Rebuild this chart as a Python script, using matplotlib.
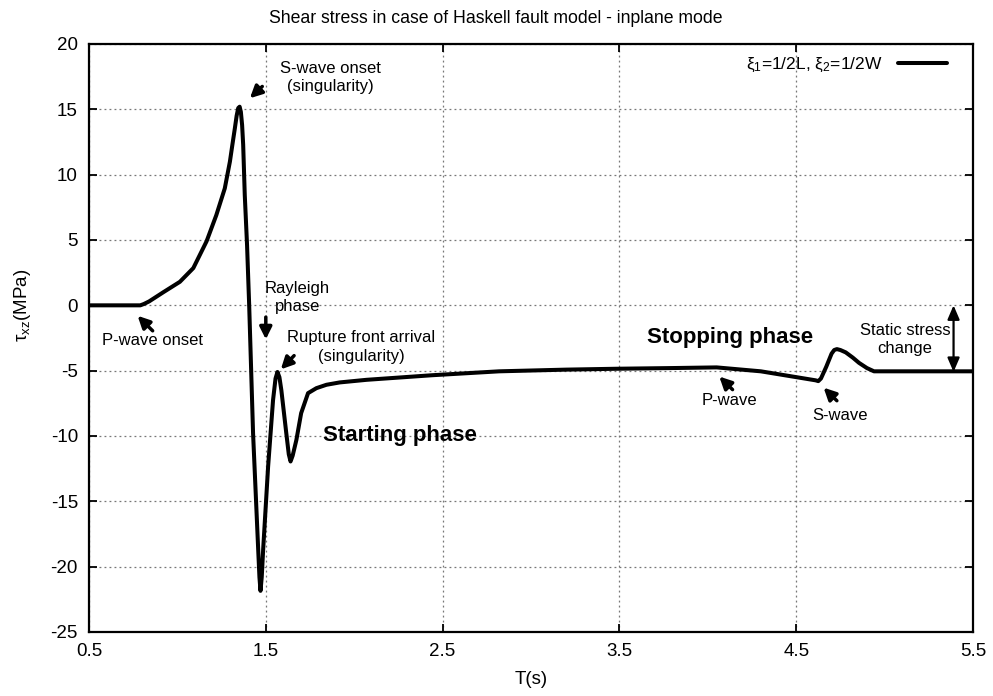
import numpy as np
import matplotlib.pyplot as plt

plt.rcParams['font.family'] = ['Liberation Sans', 'DejaVu Sans']
plt.rcParams['mathtext.fontset'] = 'custom'
plt.rcParams['mathtext.rm'] = 'Liberation Sans'
plt.rcParams['mathtext.it'] = 'Liberation Sans:italic'
plt.rcParams['axes.unicode_minus'] = False

# values
t_s = [0.5, 0.79, 0.81, 0.84, 0.92, 1.014, 1.09, 1.165, 1.22, 1.268, 1.297,
       1.31, 1.325, 1.335, 1.344, 1.352, 1.359, 1.366, 1.372, 1.381, 1.394,
       1.406, 1.428, 1.457, 1.464, 1.47, 1.477, 1.485, 1.513, 1.541, 1.555,
       1.566, 1.577, 1.588, 1.616, 1.63, 1.64, 1.652, 1.673, 1.70, 1.739,
       1.786, 1.843, 1.918, 2.07, 2.44, 2.82, 3.2, 3.5, 3.8, 4.05, 4.3,
       4.61, 4.625, 4.64, 4.67, 4.70, 4.715, 4.73, 4.75, 4.78, 4.82, 4.855,
       4.90, 4.94, 5.2, 5.5]
tau = [0.0, 0.0, 0.1, 0.3, 1.0, 1.8, 2.85, 4.9, 6.9, 8.95, 11.0,
       12.2, 13.55, 14.5, 15.1, 15.2, 14.8, 13.8, 12.3, 8.45, 4.6,
       0.0, -9.8, -18.7, -20.8, -21.85, -20.8, -18.7, -12.35, -7.25, -5.6,
       -5.1, -5.5, -6.5, -9.8, -11.4, -11.95, -11.5, -10.3, -8.25, -6.72,
       -6.34, -6.08, -5.9, -5.7, -5.35, -5.05, -4.92, -4.85, -4.8, -4.75, -5.05,
       -5.74, -5.8, -5.6, -4.7, -3.7, -3.42, -3.35, -3.42, -3.6, -4.0, -4.4,
       -4.8, -5.05, -5.05, -5.05]

x_ticks = [0.5, 1.5, 2.5, 3.5, 4.5, 5.5]
y_ticks = [-25, -20, -15, -10, -5, 0, 5, 10, 15, 20]
static_level = -5.1

fig = plt.figure(figsize=(9.93, 6.96), dpi=100)
ax = fig.add_axes([89 / 993, 1 - 632 / 696, 884 / 993, 588 / 696])

ax.plot(t_s, tau, color='black', lw=2.9, solid_joinstyle='round',
        solid_capstyle='round', label=r'ξ$_1$=1/2L, ξ$_2$=1/2W')

ax.set_xlim(0.5, 5.5)
ax.set_ylim(-25, 20)
ax.set_xticks(x_ticks)
ax.set_yticks(y_ticks)
ax.set_xticklabels([str(v) for v in x_ticks])
ax.grid(True, color='#777777', linestyle=(0, (1.5, 2.5)), lw=0.9)
ax.tick_params(direction='in', top=True, right=True, length=6, width=1.3,
               labelsize=13.5, pad=8)
for s in ax.spines.values():
    s.set_linewidth(1.6)

ax.set_title('Shear stress in case of Haskell fault model - inplane mode',
             fontsize=12.7, pad=15, x=0.46)
ax.set_xlabel('T(s)', fontsize=13.5, labelpad=8)
ax.set_ylabel(r'τ$_\mathrm{xz}$(MPa)', fontsize=13.5)
ax.yaxis.set_label_coords(-0.063, 0.556)

ax.legend(loc='upper right', bbox_to_anchor=(0.9785, 0.992), borderaxespad=0,
          frameon=False, markerfirst=False, fontsize=12.5,
          handlelength=2.8, handletextpad=0.9)

arr = dict(arrowstyle='-|>,head_length=0.6,head_width=0.3', color='black',
           lw=2.5, mutation_scale=12, shrinkA=0, shrinkB=0)
fs = 12
ls = 1.3

ax.annotate('', xy=(1.41, 15.85), xytext=(1.48, 16.75), arrowprops=arr)
ax.text(1.867, 17.45, 'S-wave onset\n(singularity)', ha='center', va='center',
        fontsize=fs, linespacing=ls)

ax.annotate('', xy=(0.775, -0.8), xytext=(0.86, -1.95), arrowprops=arr)
ax.text(0.859, -2.68, 'P-wave onset', ha='center', va='center', fontsize=fs)

ax.text(1.678, 0.6, 'Rayleigh\nphase', ha='center', va='center',
        fontsize=fs, linespacing=ls)
ax.annotate('', xy=(1.5, -2.6), xytext=(1.5, -0.9), arrowprops=arr)

ax.annotate('', xy=(1.585, -4.9), xytext=(1.66, -3.85), arrowprops=arr)
ax.text(2.04, -3.2, 'Rupture front arrival\n(singularity)', ha='center',
        va='center', fontsize=fs, linespacing=ls)

ax.text(2.257, -9.95, 'Starting phase', ha='center', va='center',
        fontsize=16, fontweight='bold')
ax.text(4.124, -2.5, 'Stopping phase', ha='center', va='center',
        fontsize=16, fontweight='bold')

ax.annotate('', xy=(4.065, -5.45), xytext=(4.14, -6.45), arrowprops=arr)
ax.text(4.124, -7.27, 'P-wave', ha='center', va='center', fontsize=fs)

ax.annotate('', xy=(4.655, -6.3), xytext=(4.73, -7.3), arrowprops=arr)
ax.text(4.75, -8.4, 'S-wave', ha='center', va='center', fontsize=fs)

ax.text(5.116, -2.6, 'Static stress\nchange', ha='center', va='center',
        fontsize=fs, linespacing=ls)
ax.annotate('', xy=(5.39, static_level), xytext=(5.39, 0),
            arrowprops=dict(arrowstyle='<|-|>,head_length=0.7,head_width=0.3',
                            color='black', lw=1.6, mutation_scale=12,
                            shrinkA=0, shrinkB=0))

fig.savefig('out.png', dpi=100)
